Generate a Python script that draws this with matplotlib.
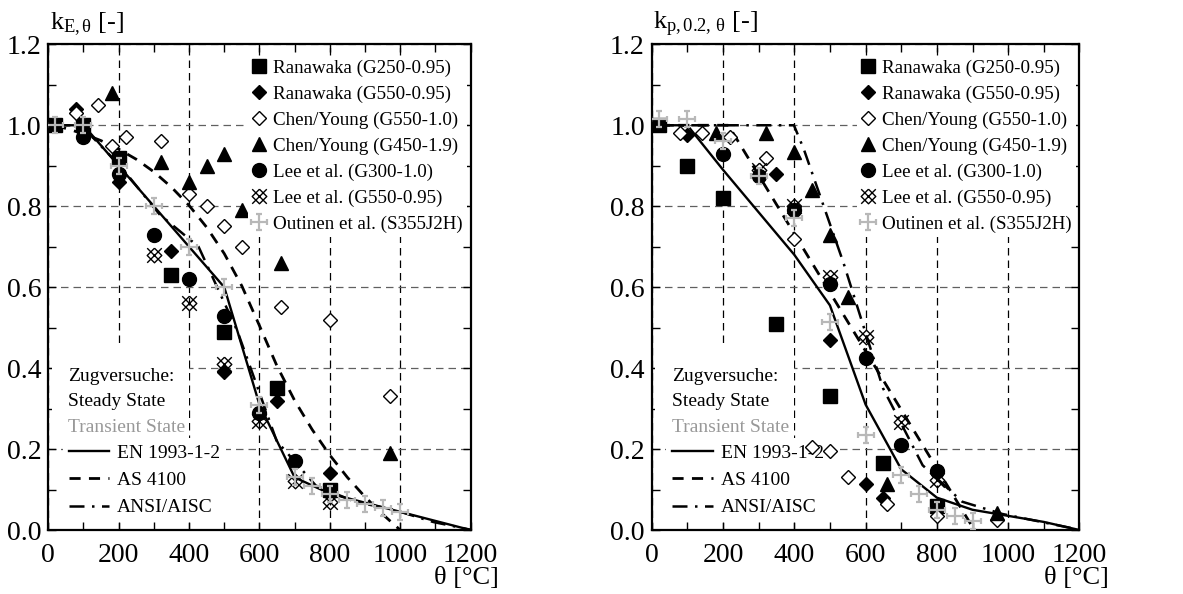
import numpy as np
import matplotlib
matplotlib.use('Agg')
import matplotlib.pyplot as plt
from matplotlib.path import Path
from matplotlib.lines import Line2D
from matplotlib.patches import Rectangle
from matplotlib.ticker import MultipleLocator

plt.rcParams['font.family'] = ['Liberation Serif', 'DejaVu Serif']
plt.rcParams['mathtext.fontset'] = 'custom'
plt.rcParams['mathtext.rm'] = 'Liberation Serif'
plt.rcParams['mathtext.it'] = 'Liberation Serif:italic'

# ---- E-modulus reduction k_E,theta ----
E_ran250_T = [20, 100, 200, 350, 500, 650, 800]
E_ran250_k = [1.0, 1.0, 0.92, 0.63, 0.49, 0.35, 0.10]
E_ran550_T = [80, 200, 350, 500, 650, 800]
E_ran550_k = [1.04, 0.86, 0.69, 0.39, 0.32, 0.14]
E_chen550_T = [80, 140, 180, 220, 320, 400, 450, 500, 550, 660, 800, 970]
E_chen550_k = [1.03, 1.05, 0.95, 0.97, 0.96, 0.83, 0.80, 0.75, 0.70, 0.55, 0.52, 0.33]
E_chen450_T = [180, 320, 400, 450, 500, 550, 660, 970]
E_chen450_k = [1.08, 0.91, 0.86, 0.90, 0.93, 0.79, 0.66, 0.19]
E_lee300_T = [100, 200, 300, 400, 500, 600, 700]
E_lee300_k = [0.97, 0.88, 0.73, 0.62, 0.53, 0.29, 0.17]
E_lee550_T = [300, 400, 500, 600, 700, 800]
E_lee550_k = [0.68, 0.56, 0.41, 0.27, 0.12, 0.07]
E_out_T = [20, 100, 200, 300, 400, 500, 600, 700, 750, 800, 850, 900, 950, 1000]
E_out_k = [1.0, 1.0, 0.90, 0.80, 0.70, 0.60, 0.31, 0.13, 0.11, 0.09, 0.075, 0.065, 0.055, 0.045]

E_en_T = [20, 100, 200, 300, 400, 500, 600, 700, 800, 900, 1000, 1100, 1200]
E_en_k = [1.0, 1.0, 0.90, 0.80, 0.70, 0.60, 0.31, 0.13, 0.09, 0.0675, 0.045, 0.0225, 0.0]
E_as_T = [20, 100, 150, 200, 250, 300, 350, 400, 450, 500, 550, 600, 650, 700, 750, 800, 850, 900, 950, 1000]
E_as_k = [1.0, 0.979, 0.962, 0.941, 0.916, 0.885, 0.847, 0.802, 0.748, 0.683, 0.603, 0.505,
          0.405, 0.320, 0.248, 0.185, 0.130, 0.082, 0.039, 0.0]
E_aisc_T = [20, 93, 204, 316, 427, 538, 649, 760, 871, 982, 1093, 1204]
E_aisc_k = [1.0, 1.0, 0.90, 0.78, 0.70, 0.49, 0.22, 0.11, 0.07, 0.05, 0.02, 0.0]

# ---- 0.2 % proof strength reduction k_p,0.2,theta ----
P_ran250_T = [20, 100, 200, 350, 500, 650, 800]
P_ran250_k = [1.0, 0.90, 0.82, 0.51, 0.33, 0.165, 0.06]
P_ran550_T = [100, 350, 500, 600, 650]
P_ran550_k = [0.975, 0.88, 0.47, 0.113, 0.08]
P_chen550_T = [80, 140, 220, 320, 400, 450, 500, 550, 660, 800, 970]
P_chen550_k = [0.98, 0.98, 0.97, 0.92, 0.72, 0.205, 0.195, 0.13, 0.065, 0.035, 0.025]
P_chen450_T = [180, 320, 400, 450, 500, 550, 660, 970]
P_chen450_k = [0.98, 0.98, 0.935, 0.84, 0.73, 0.575, 0.113, 0.043]
P_lee300_T = [200, 300, 400, 500, 600, 700, 800]
P_lee300_k = [0.93, 0.875, 0.79, 0.607, 0.425, 0.21, 0.145]
P_lee550_T = [300, 400, 500, 600, 700, 800]
P_lee550_k = [0.89, 0.80, 0.625, 0.478, 0.268, 0.124]
P_out_T = [20, 100, 200, 300, 400, 500, 600, 700, 750, 800, 850, 900]
P_out_k = [1.015, 1.015, 0.96, 0.875, 0.77, 0.515, 0.235, 0.135, 0.09, 0.05, 0.035, 0.023]

P_en_T = [20, 100, 200, 300, 400, 500, 600, 700, 800, 900, 1000, 1100, 1200]
P_en_k = [1.0, 1.0, 0.89, 0.785, 0.68, 0.555, 0.31, 0.15, 0.08, 0.05, 0.035, 0.02, 0.0]
P_as_T = [20, 215, 905]
P_as_k = [1.0, 1.0, 0.0]
P_aisc_T = [20, 93, 204, 316, 399, 427, 538, 649, 760, 871, 982, 1093, 1204]
P_aisc_k = [1.0, 1.0, 1.0, 1.0, 1.0, 0.94, 0.66, 0.35, 0.16, 0.07, 0.04, 0.02, 0.0]

series_labels = ['Ranawaka (G250-0.95)', 'Ranawaka (G550-0.95)', 'Chen/Young (G550-1.0)',
                 'Chen/Young (G450-1.9)', 'Lee et al. (G300-1.0)', 'Lee et al. (G550-0.95)',
                 'Outinen et al. (S355J2H)']
code_labels = ['EN 1993-1-2', 'AS 4100', 'ANSI/AISC']
notes = ['Zugversuche:', 'Steady State', 'Transient State']
note_colors = ['black', 'black', '#999999']

# plus sign with end caps
cap = 0.35
plus_cap = Path(
    [(-1, 0), (1, 0), (0, -1), (0, 1),
     (-1, -cap), (-1, cap), (1, -cap), (1, cap),
     (-cap, -1), (cap, -1), (-cap, 1), (cap, 1)],
    [Path.MOVETO, Path.LINETO] * 6)
# cross-hatched diamond
hatch_dia = Path(
    [(-1, -1), (1, 1), (-1, 1), (1, -1),
     (0, 1), (1, 0), (0, -1), (-1, 0), (0, 1)],
    [Path.MOVETO, Path.LINETO, Path.MOVETO, Path.LINETO,
     Path.MOVETO, Path.LINETO, Path.LINETO, Path.LINETO, Path.LINETO])

styles = [
    dict(marker='s', ms=9.5, mfc='black', mec='black'),
    dict(marker='D', ms=7, mfc='black', mec='black'),
    dict(marker='D', ms=7, mfc='white', mec='black', mew=1.0),
    dict(marker='^', ms=10, mfc='black', mec='black'),
    dict(marker='o', ms=10, mfc='black', mec='black'),
    dict(marker=hatch_dia, ms=10.5, mfc='none', mec='black', mew=1.0),
    dict(marker=plus_cap, ms=12, mfc='none', mec='#b8b8b8', mew=1.6),
]
line_styles = [dict(color='black', lw=1.7),
               dict(color='black', lw=2.0, ls=(0, (4, 3))),
               dict(color='black', lw=1.8, ls=(0, (6, 3, 1, 3)))]

fig = plt.figure(figsize=(11.83, 5.94), dpi=100)
ax1 = fig.add_axes([0.0408, 0.1077, 0.3570, 0.8177])
ax2 = fig.add_axes([0.5509, 0.1077, 0.3616, 0.8177])


def draw_panel(ax, pts, curves, ylab):
    ax.set_xlim(0, 1200)
    ax.set_ylim(0, 1.2)
    ax.xaxis.set_major_locator(MultipleLocator(200))
    ax.xaxis.set_minor_locator(MultipleLocator(100))
    ax.yaxis.set_major_locator(MultipleLocator(0.2))
    ax.yaxis.set_minor_locator(MultipleLocator(0.1))
    ax.yaxis.set_major_formatter(plt.FuncFormatter(lambda v, p: f'{v:.1f}'))
    ax.tick_params(which='both', direction='in', top=True, right=True,
                   length=5.5, width=1.0, labelsize=20)
    ax.tick_params(axis='x', pad=9)
    ax.tick_params(axis='y', pad=5)
    for s in ax.spines.values():
        s.set_linewidth(1.6)
    ax.set_axisbelow(True)
    ax.grid(True, axis='x', which='major', color='black', lw=0.9, ls=(0, (6, 4)))
    ax.grid(True, axis='y', which='major', color='#606060', lw=0.9, ls=(0, (6, 4)))

    for (T, k), st in zip(curves, line_styles):
        ax.plot(T, k, zorder=3, **st)

    handles = []
    for (T, k), lab, st in zip(pts, series_labels, styles):
        h, = ax.plot(T, k, ls='none', label=lab, zorder=4, **st)
        handles.append(h)

    leg = ax.legend(handles=handles, loc='upper right', bbox_to_anchor=(1.0, 0.984),
                    fontsize=13.7, frameon=True, fancybox=False, framealpha=1,
                    facecolor='white', edgecolor='none', handlelength=0.8,
                    handletextpad=0.35, labelspacing=0.45, borderpad=0.2,
                    borderaxespad=0.2)
    leg.set_zorder(5)
    ax.add_artist(leg)

    # white block behind the test-type notes
    ax.add_patch(Rectangle((0.008, 0.19), 0.325, 0.185, transform=ax.transAxes,
                           facecolor='white', edgecolor='none', zorder=1))
    for i, (txt, c) in enumerate(zip(notes, note_colors)):
        ax.text(0.047, 0.317 - i * 0.0525, txt, transform=ax.transAxes, fontsize=14,
                va='center', ha='left', color=c, zorder=6)

    code_handles = [Line2D([], [], **st) for st in line_styles]
    leg2 = ax.legend(code_handles, code_labels, loc='lower left',
                     bbox_to_anchor=(0.025, 0.008), fontsize=14, frameon=True,
                     fancybox=False, framealpha=1, facecolor='white', edgecolor='none',
                     handlelength=2.1, handletextpad=0.4, labelspacing=0.5,
                     borderpad=0.3, borderaxespad=0.2)
    leg2.set_zorder(3.5)

    ax.text(0.003, 1.03, ylab, transform=ax.transAxes, fontsize=19,
            ha='left', va='baseline')
    ax.text(1.068, -0.098, 'θ [°C]', transform=ax.transAxes, fontsize=19,
            ha='right', va='center')


draw_panel(ax1,
           [(E_ran250_T, E_ran250_k), (E_ran550_T, E_ran550_k), (E_chen550_T, E_chen550_k),
            (E_chen450_T, E_chen450_k), (E_lee300_T, E_lee300_k), (E_lee550_T, E_lee550_k),
            (E_out_T, E_out_k)],
           [(E_en_T, E_en_k), (E_as_T, E_as_k), (E_aisc_T, E_aisc_k)],
           r'k$_{\mathrm{E,θ}}$ [-]')
draw_panel(ax2,
           [(P_ran250_T, P_ran250_k), (P_ran550_T, P_ran550_k), (P_chen550_T, P_chen550_k),
            (P_chen450_T, P_chen450_k), (P_lee300_T, P_lee300_k), (P_lee550_T, P_lee550_k),
            (P_out_T, P_out_k)],
           [(P_en_T, P_en_k), (P_as_T, P_as_k), (P_aisc_T, P_aisc_k)],
           r'k$_{\mathrm{p,0.2,\,θ}}$ [-]')

fig.savefig('out.png', dpi=100)
